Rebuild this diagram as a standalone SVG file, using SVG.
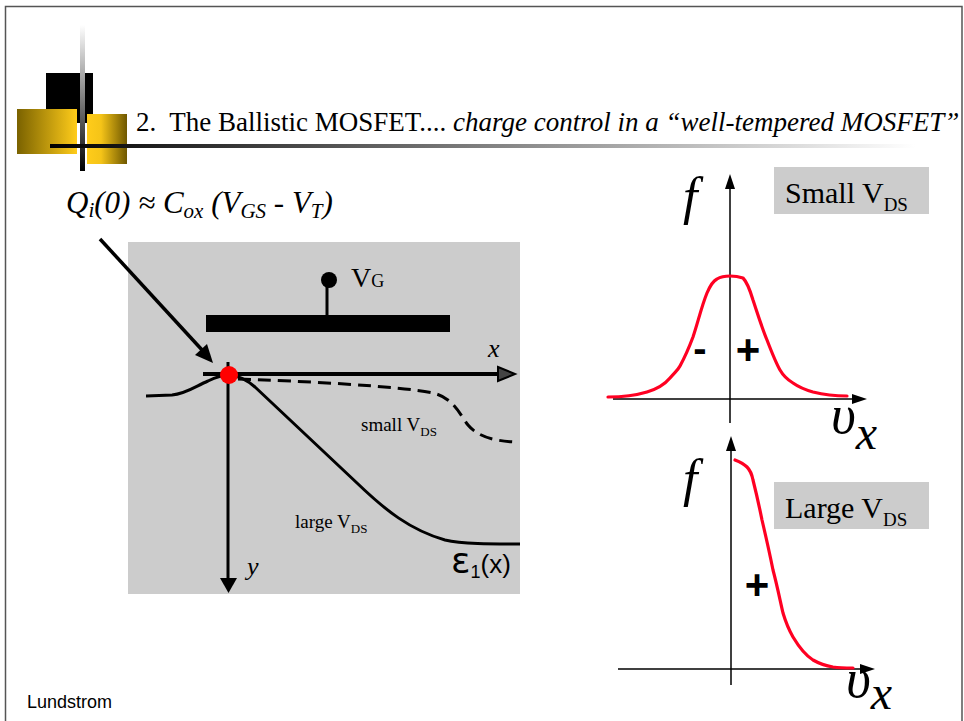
<svg xmlns="http://www.w3.org/2000/svg" width="964" height="721" viewBox="0 0 964 721">
<defs>
<linearGradient id="goldL" x1="0" y1="0" x2="1" y2="0">
<stop offset="0" stop-color="#7a6200"/><stop offset="1" stop-color="#ffcc1a"/>
</linearGradient>
<linearGradient id="goldR" x1="0" y1="0" x2="1" y2="0">
<stop offset="0" stop-color="#ffcc1a"/><stop offset="0.35" stop-color="#f5c418"/><stop offset="1" stop-color="#6e5700"/>
</linearGradient>
<linearGradient id="vline" x1="0" y1="0" x2="0" y2="1">
<stop offset="0" stop-color="#ffffff"/><stop offset="1" stop-color="#000000"/>
</linearGradient>
<linearGradient id="hline" x1="0" y1="0" x2="1" y2="0">
<stop offset="0" stop-color="#000000"/><stop offset="1" stop-color="#ffffff"/>
</linearGradient>
</defs>
<style>
.serif{font-family:"Liberation Serif","Times New Roman",serif;fill:#000}
.it{font-style:italic}
.sans{font-family:"Liberation Sans",Arial,sans-serif;fill:#000}
.ax{stroke:#000;stroke-width:1.5;fill:none}
.red{stroke:#ff0022;stroke-width:3.2;fill:none;stroke-linejoin:round;stroke-linecap:round}
.lbl{fill:#cccccc}
</style>
<rect width="964" height="721" fill="#ffffff"/>
<path d="M5.5,721 V6.5 H962 V721" fill="none" stroke="#555" stroke-width="1.5"/>

<g id="header">
<rect x="46" y="73" width="47" height="50" fill="#000"/>
<rect x="17" y="109" width="60" height="45" fill="url(#goldL)"/>
<rect x="87" y="114" width="40" height="50" fill="url(#goldR)"/>
<rect x="80" y="25" width="5" height="146" fill="url(#vline)"/>
<rect x="50" y="144" width="865" height="4" fill="url(#hline)"/>
<text class="serif" x="136" y="131" font-size="27" xml:space="preserve">2.  The Ballistic MOSFET.... <tspan class="it">charge control in a “well-tempered MOSFET”</tspan></text>
</g>

<g id="formula">
<text class="serif it" x="66" y="213" font-size="31">Q<tspan font-size="21" dy="4">i</tspan><tspan dy="-4">(0) ≈ C</tspan><tspan font-size="21" dy="5">ox</tspan><tspan dy="-5"> (V</tspan><tspan font-size="21" dy="5">GS</tspan><tspan dy="-5"> - V</tspan><tspan font-size="21" dy="5">T</tspan><tspan dy="-5">)</tspan></text>
</g>

<g id="device">
<rect x="128" y="242" width="392" height="352" fill="#cccccc"/>
<rect x="206" y="315" width="244" height="17" fill="#000"/>
<line x1="327" y1="282" x2="327" y2="315" stroke="#000" stroke-width="3"/>
<circle cx="329" cy="280" r="8" fill="#000"/>
<text class="serif" x="351" y="287" font-size="28">V<tspan font-size="18">G</tspan></text>
<text class="serif it" x="488" y="357" font-size="26">x</text>
<text class="serif it" x="247" y="575" font-size="26">y</text>
<text class="serif" x="361" y="431" font-size="19">small V<tspan font-size="13" dy="5">DS</tspan></text>
<text class="serif" x="295" y="528" font-size="19">large V<tspan font-size="13" dy="5">DS</tspan></text>
<text class="sans" x="451" y="573" font-size="26"><tspan font-family="DejaVu Sans, sans-serif" font-size="36">ε</tspan><tspan font-size="18" dy="5">1</tspan><tspan dy="-5">(x)</tspan></text>
</g>

<g id="connectors">
<line x1="203" y1="374" x2="500" y2="374" stroke="#000" stroke-width="4"/>
<path d="M498,367 L515,374 L498,381 z" fill="#444" stroke="#000" stroke-width="2"/>
<line x1="228" y1="362" x2="228" y2="578" stroke="#000" stroke-width="3"/>
<path d="M220,578 L237,578 L228.5,593 z" fill="#000"/>
<line x1="100" y1="239" x2="203" y2="351" stroke="#000" stroke-width="3.5"/>
<path d="M213,363 L195,355 L207,344 z" fill="#000"/>
<path d="M146,396 L172,395 C186,394 196,386 208,381 C216,377 222,375 230,375 C240,376 247,380 255,387 L357,483 C385,510 410,530 445,540 C462,544 490,544 520,544" fill="none" stroke="#000" stroke-width="3"/>
<path d="M238,379 C300,381 400,386 433,393 C454,398 460,415 468,425 C478,437 495,441 515,442" fill="none" stroke="#000" stroke-width="3" stroke-dasharray="13,7"/>
<circle cx="229" cy="375" r="9" fill="#ff0000"/>
</g>

<g id="plot-small">
<line class="ax" x1="730" y1="186" x2="730" y2="423"/>
<path d="M730,174 L725,189 L735,189 z" fill="#000"/>
<line class="ax" x1="613" y1="399" x2="855" y2="399"/>
<path d="M867,399 L852,394 L852,404 z" fill="#000"/>
<path class="red" d="M608,397 C625,397 637,395 647,392 C657,389 665,384 670,378 C675,372 678,370 680,366 C686,355 690,345 693,337 C698,322 702,305 707,293 C710,286 713,281 717,279 C722,276 726,276 730,276 C736,276 740,277 743,278 C747,282 750,290 753,300 C758,315 762,328 767,340 C772,353 776,363 780,370 C784,377 788,380 793,383 C800,388 806,390 813,392 C825,395 835,396 847,396"/>
<text class="sans" x="700" y="362" font-size="40" font-weight="bold" text-anchor="middle">-</text>
<text class="sans" x="748" y="364" font-size="42" font-weight="bold" text-anchor="middle">+</text>
<text class="serif it" x="683" y="214" font-size="52">f</text>
<rect class="lbl" x="774" y="167" width="155" height="47"/>
<text class="serif" x="785" y="203" font-size="30">Small V<tspan font-size="19" dy="8">DS</tspan></text>
<text class="serif it" x="831" y="433" font-size="54">υ<tspan font-size="48" dy="16">x</tspan></text>
</g>

<g id="plot-large">
<line class="ax" x1="731" y1="448" x2="731" y2="685"/>
<path d="M731,436 L726,451 L736,451 z" fill="#000"/>
<line class="ax" x1="618" y1="669" x2="862" y2="669"/>
<path d="M875,669 L860,664 L860,674 z" fill="#000"/>
<path class="red" d="M735,460 C740,462 744,464 747,467 C750,470 752,475 753,480 C756,492 759,505 762,520 C766,537 770,555 773,570 C777,585 780,600 783,613 C786,623 789,630 793,637 C799,647 805,655 813,660 C820,664 827,666 833,667 C840,668 846,668 853,668"/>
<text class="sans" x="757" y="599" font-size="42" font-weight="bold" text-anchor="middle">+</text>
<text class="serif it" x="683" y="496" font-size="52">f</text>
<rect class="lbl" x="774" y="482" width="155" height="47"/>
<text class="serif" x="785" y="518" font-size="30">Large V<tspan font-size="19" dy="8">DS</tspan></text>
<text class="serif it" x="846" y="697" font-size="54">υ<tspan font-size="48" dy="12">x</tspan></text>
</g>

<text class="sans" x="27" y="708" font-size="18">Lundstrom</text>
</svg>
